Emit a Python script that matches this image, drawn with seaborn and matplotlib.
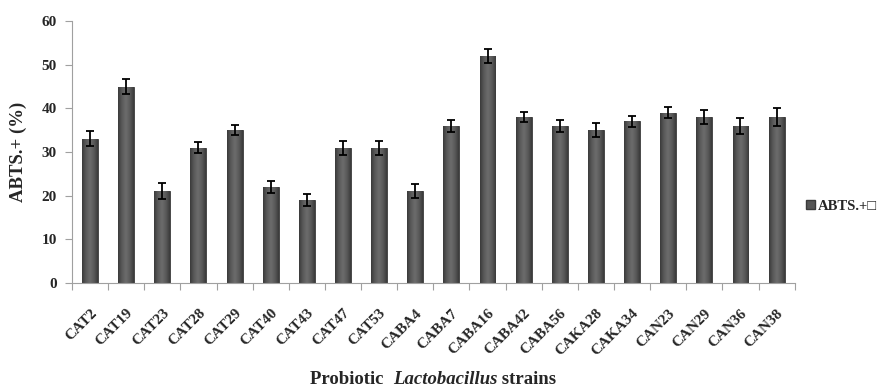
import numpy as np
import pandas as pd
import matplotlib
matplotlib.use("Agg")
import matplotlib.pyplot as plt
import matplotlib.transforms as mtransforms
from matplotlib.colors import LinearSegmentedColormap
import seaborn as sns
from matplotlib.patches import Patch

strains = ["CAT2", "CAT19", "CAT23", "CAT28", "CAT29", "CAT40", "CAT43", "CAT47",
           "CAT53", "CABA4", "CABA7", "CABA16", "CABA42", "CABA56", "CAKA28",
           "CAKA34", "CAN23", "CAN29", "CAN36", "CAN38"]
abts = [33, 45, 21, 31, 35, 22, 19, 31, 31, 21, 36, 52, 38, 36, 35, 37, 39, 38, 36, 38]
errors = [1.7, 1.7, 1.8, 1.2, 1.1, 1.3, 1.3, 1.6, 1.6, 1.6, 1.4, 1.6, 1.2, 1.4, 1.6,
          1.3, 1.2, 1.6, 1.9, 2.0]
yticks = [0, 10, 20, 30, 40, 50, 60]

sns.set_theme(style="white")
plt.rcParams['font.family'] = ['Liberation Serif', 'DejaVu Serif']
plt.rcParams['font.weight'] = 'bold'

df = pd.DataFrame({"strain": strains, "abts": abts, "err": errors})

fig = plt.figure(figsize=(8.82, 3.89), dpi=100)
ax = fig.add_axes([0.0816, 0.2725, 0.8194, 0.6735])

sns.barplot(data=df, x="strain", y="abts", ax=ax, color="#555555",
            width=0.44, edgecolor="#3a3a3a", linewidth=0.6, saturation=1)

# cylinder-like shading inside each bar
cmap = LinearSegmentedColormap.from_list("bar", ["#3a3a3a", "#5a5a5a", "#6c6c6c", "#5a5a5a", "#3a3a3a"])
grad = np.linspace(0, 1, 64).reshape(1, -1)
for p in list(ax.patches):
    x0, w, h = p.get_x(), p.get_width(), p.get_height()
    im = ax.imshow(grad, extent=[x0, x0 + w, 0, h], aspect='auto', cmap=cmap,
                   interpolation='bilinear', zorder=p.get_zorder() + 0.1)
    im.set_clip_path(p)

ax.errorbar(np.arange(len(strains)), df["abts"], yerr=df["err"], fmt="none",
            ecolor="black", elinewidth=1.3, capsize=3, capthick=1.3, zorder=5)

ax.set_xlim(-0.5, len(strains) - 0.5)
ax.set_ylim(0, 60)
ax.set_yticks(yticks)
ax.set_yticklabels([str(t) for t in yticks], fontsize=11, fontweight='bold')
ax.set_xticks(np.arange(len(strains)))
ax.set_xticklabels(strains, rotation=45, ha='right', rotation_mode='anchor',
                   fontsize=11, fontweight='bold')
offset = mtransforms.ScaledTranslation(-3 / 100, 0, fig.dpi_scale_trans)
for lbl in ax.get_xticklabels():
    lbl.set_transform(lbl.get_transform() + offset)
ax.set_xticks(np.arange(-0.5, len(strains)), minor=True)
ax.tick_params(axis='x', which='major', length=0, pad=17)
ax.tick_params(axis='x', which='minor', length=5, width=0.8, color='#a0a0a0', direction='out', bottom=True)
ax.tick_params(axis='y', which='major', length=5, width=0.8, color='#a0a0a0', direction='out', left=True, pad=6)

for s in ['top', 'right']:
    ax.spines[s].set_visible(False)
for s in ['left', 'bottom']:
    ax.spines[s].set_color('#a0a0a0')
    ax.spines[s].set_linewidth(0.8)

ax.set_ylabel("ABTS.+ (%)", fontsize=13.5, fontweight='bold', labelpad=10)
ax.set_xlabel("")

# x-axis title with italic genus name, centred under the axes
parts = [("Probiotic  ", 'normal'), ("Lactobacillus", 'italic'), (" strains", 'normal')]
fs = 13.5
yb = 0.012
r = fig.canvas.get_renderer()
widths = []
for txt, st in parts:
    t = fig.text(0, yb, txt, fontsize=fs, fontweight='bold', style=st, alpha=0)
    widths.append(t.get_window_extent(r).width / fig.bbox.width)
    t.remove()
xc = 0.0816 + 0.8194 / 2
xs = xc - sum(widths) / 2
for (txt, st), w in zip(parts, widths):
    fig.text(xs, yb, txt, fontsize=fs, fontweight='bold', style=st, ha='left', va='baseline')
    xs += w

handle = Patch(facecolor="#555555", edgecolor="#3a3a3a")
leg = fig.legend([handle], ["ABTS.+\u25a1"], loc='center left',
                 bbox_to_anchor=(0.899, 0.47), frameon=False,
                 prop={'family': ['Liberation Serif', 'DejaVu Sans'], 'weight': 'bold', 'size': 10.5},
                 handlelength=0.6, handleheight=0.6, handletextpad=0.2)

fig.savefig("out.png", dpi=100)
